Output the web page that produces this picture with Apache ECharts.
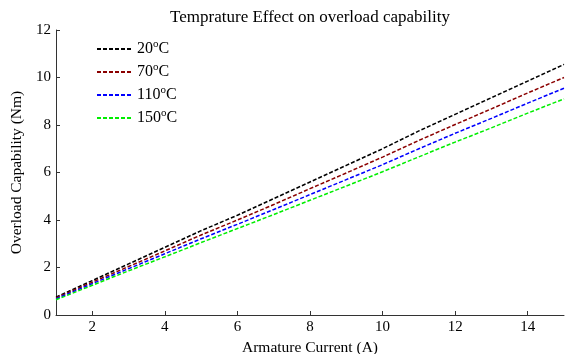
<!DOCTYPE html>
<html><head><meta charset="utf-8">
<script src="https://cdn.jsdelivr.net/npm/echarts@6/dist/echarts.min.js"></script>
<style>html,body{margin:0;padding:0;background:#fff}#c{width:566px;height:354px}</style>
</head><body><div id="c"></div>
<script>
const current = [1,2,3,4,5,6,7,8,9,10,11,12,13,14,15];
const t20  = [0.75,1.45,2.15,2.85,3.55,4.20,4.90,5.60,6.30,7.00,7.75,8.45,9.15,9.85,10.55];
const t70  = [0.72,1.38,2.04,2.70,3.37,4.00,4.65,5.32,5.98,6.65,7.35,8.02,8.68,9.35,10.00];
const t110 = [0.68,1.32,1.95,2.58,3.21,3.82,4.44,5.07,5.70,6.33,7.00,7.65,8.28,8.92,9.55];
const t150 = [0.64,1.25,1.86,2.45,3.05,3.64,4.23,4.83,5.43,6.03,6.66,7.28,7.88,8.50,9.10];
const seriesNames = ['20{s|o}C','70{s|o}C','110{s|o}C','150{s|o}C'];
const seriesData = [t20,t70,t110,t150];
const colors = ['#000000','#8b0000','#0000ff','#00ee00'];
const xTicks = [2,4,6,8,10,12,14];
const font = 'Liberation Serif, Times New Roman, serif';

const chart = echarts.init(document.getElementById('c'));
chart.setOption({
  animation:false,
  backgroundColor:'#fff',
  textStyle:{fontFamily:font},
  title:{text:'Temprature Effect on overload capability',left:305,textAlign:'center',top:4,
    textStyle:{fontFamily:font,fontSize:17,fontWeight:'normal',color:'#000'}},
  legend:{orient:'vertical',left:96,top:39,itemWidth:35,itemHeight:12,itemGap:5,padding:0,
    data:seriesNames,
    itemStyle:{color:'transparent',borderWidth:0,opacity:0},
    textStyle:{fontFamily:font,fontSize:16,color:'#000',
      rich:{s:{fontFamily:font,fontSize:11,verticalAlign:'top',padding:[0,0,9,0]}}}},
  grid:{left:56,right:2,top:30,bottom:39,containLabel:false,outerBoundsMode:'none'},
  xAxis:{type:'value',min:1,max:15,
    name:'Armature Current (A)',nameLocation:'middle',nameGap:19,
    nameTextStyle:{fontFamily:font,fontSize:15.5,color:'#000'},
    axisLine:{lineStyle:{color:'#333',width:1}},
    axisTick:{inside:true,length:4,customValues:xTicks,lineStyle:{color:'#333'}},
    axisLabel:{customValues:xTicks,fontFamily:font,fontSize:15,color:'#000',margin:5},
    splitLine:{show:false}},
  yAxis:{type:'value',min:0,max:12,interval:2,
    name:'Overload Capability (Nm)',nameLocation:'middle',nameGap:29,
    nameTextStyle:{fontFamily:font,fontSize:15.5,color:'#000'},
    axisLine:{show:true,lineStyle:{color:'#333',width:1}},
    axisTick:{show:true,inside:true,length:4,lineStyle:{color:'#333'}},
    axisLabel:{fontFamily:font,fontSize:15,color:'#000',margin:5},
    splitLine:{show:false}},
  series: seriesNames.map((n,i)=>({
    name:n,type:'line',symbol:'none',smooth:false,
    data: current.map((x,j)=>[x,seriesData[i][j]]),
    itemStyle:{color:colors[i]},
    lineStyle:{color:colors[i],width:1.5,type:[4,2]}
  }))
});
</script></body></html>
